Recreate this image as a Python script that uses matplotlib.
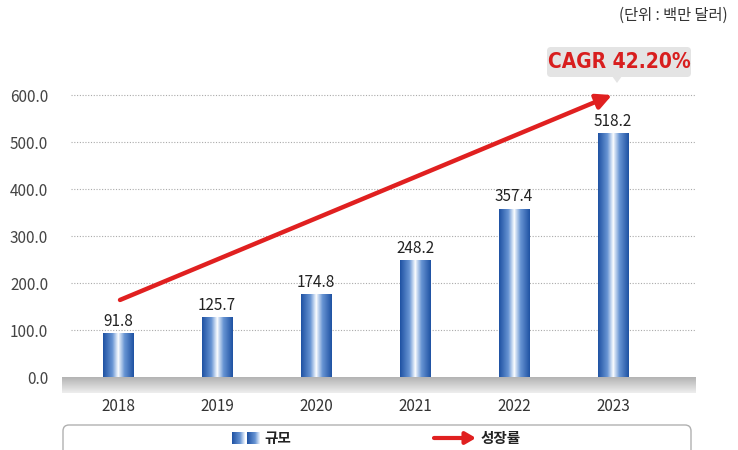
import numpy as np
import matplotlib
matplotlib.use('Agg')
import matplotlib.pyplot as plt
from matplotlib.colors import LinearSegmentedColormap
from matplotlib.patches import FancyBboxPatch, Polygon

plt.rcParams['font.family'] = ['Noto Sans CJK KR', 'DejaVu Sans']

# data
years = ['2018', '2019', '2020', '2021', '2022', '2023']
values = [91.8, 125.7, 174.8, 248.2, 357.4, 518.2]
yticks = [0, 100, 200, 300, 400, 500, 600]
unit_text = '(단위 : 백만 달러)'
cagr_text = 'CAGR 42.20%'
legend_bar = '규모'
legend_line = '성장률'

bar_cmap = LinearSegmentedColormap.from_list(
    'bar', [(0, '#1f52a3'), (0.3, '#6794d3'), (0.47, '#e8f0fb'), (0.5, '#ffffff'),
            (0.53, '#dde8f7'), (0.7, '#6794d3'), (1, '#1f52a3')])
floor_cmap = LinearSegmentedColormap.from_list('floor', ['#b3b3b3', '#eeeeee'])

fig = plt.figure(figsize=(7.38, 4.5), dpi=100)
ax = fig.add_axes([0.084, 0.1256, 0.858, 0.705])
ax.set_xlim(-0.566, 5.83)
ax.set_ylim(-35, 640)

x = np.arange(len(years))
bw = 0.31
grad = np.linspace(0, 1, 100).reshape(1, -1)

for v in yticks[1:]:
    ax.plot([-0.48, 5.83], [v, v], color='#aaaaaa', lw=0.8, ls=(0, (1, 1.5)), zorder=1)

# floor
ax.imshow(np.linspace(0, 1, 50).reshape(-1, 1), cmap=floor_cmap, aspect='auto',
          extent=(-0.566, 5.83, -33, 0), zorder=2)

for xi, v in zip(x, values):
    ax.imshow(grad, cmap=bar_cmap, aspect='auto',
              extent=(xi - bw / 2, xi + bw / 2, 0, v), zorder=3)
    ax.text(xi, v + 8, f'{v:.1f}', ha='center', va='bottom', fontsize=11,
            color='#222222', zorder=4)

ax.set_yticks(yticks)
ax.set_yticklabels([f'{t:.1f}' for t in yticks], fontsize=11, color='#444444')
ax.tick_params(axis='y', length=0, pad=10)
ax.set_xticks([])
for s in ax.spines.values():
    s.set_visible(False)

for xi, yl in zip(x, years):
    ax.text(xi, -62, yl, ha='center', va='center', fontsize=11, color='#333333')

# growth arrow
ax.annotate('', xy=(4.99, 600), xytext=(0.02, 164),
            arrowprops=dict(arrowstyle='-|>,head_length=0.9,head_width=0.45',
                            color='#e02020', lw=3.2, shrinkA=0, shrinkB=0),
            zorder=5, annotation_clip=False)

# overlay in pixel coordinates for decorations
ov = fig.add_axes([0, 0, 1, 1], zorder=10)
ov.axis('off')
ov.patch.set_alpha(0)

ov.text(728, 15, unit_text, ha='right', va='center', fontsize=11, color='#333333')

# CAGR callout
ov.add_patch(FancyBboxPatch((547, 47), 144, 30, boxstyle='round,pad=0,rounding_size=4',
                            fc='#e4e4e4', ec='none'))
ov.add_patch(Polygon([[612, 76], [622, 76], [617, 83]], closed=True, fc='#e4e4e4', ec='none'))
ov.text(619, 62, cagr_text, ha='center', va='center', fontsize=15, fontweight='bold',
        fontstretch='condensed', color='#d81e1e', family='DejaVu Sans')

# legend box
ov.add_patch(FancyBboxPatch((63, 425), 628, 40, boxstyle='round,pad=0,rounding_size=6',
                            fc='white', ec='#b0b0b0', lw=1.0, zorder=1))
half = np.linspace(0, 0.48, 50).reshape(1, -1)
ov.imshow(half, cmap=bar_cmap, vmin=0, vmax=1, aspect='auto', extent=(232, 245, 444, 432), zorder=3)
ov.imshow(half, cmap=bar_cmap, vmin=0, vmax=1, aspect='auto', extent=(247, 260, 444, 432), zorder=3)
ov.text(264, 438, legend_bar, ha='left', va='center', fontsize=10.5, fontweight='bold',
        color='#222222')
ov.annotate('', xy=(476, 438), xytext=(434, 438),
            arrowprops=dict(arrowstyle='-|>,head_length=0.6,head_width=0.35',
                            color='#e02020', lw=3, shrinkA=0, shrinkB=0))
ov.text(481, 438, legend_line, ha='left', va='center', fontsize=10.5, fontweight='bold',
        color='#222222')
ov.set_xlim(0, 738)
ov.set_ylim(450, 0)

fig.savefig('out.png', dpi=100)
